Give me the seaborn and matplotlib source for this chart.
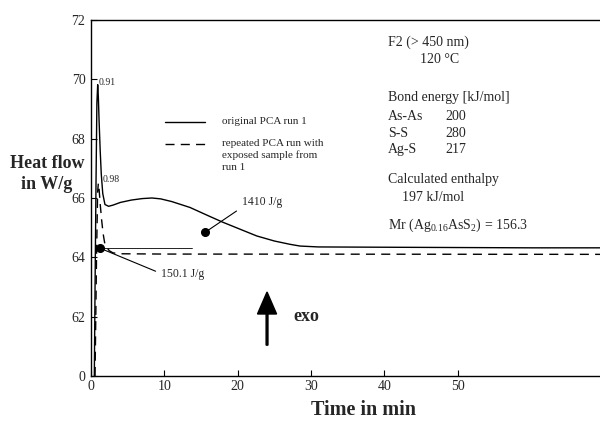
import numpy as np
import pandas as pd
import matplotlib
matplotlib.use("Agg")
import matplotlib.pyplot as plt
import seaborn as sns

# ---- data ----
time_orig = [0.45, 0.55, 0.68, 0.8, 0.91, 1.0, 1.1, 1.25, 1.4, 1.6, 1.9, 2.4, 3.0, 4.0, 5.5,
             7.0, 8.3, 9.5, 11.0, 13.5, 16.0, 18.0, 20.5, 22.6, 25.0, 27.1, 28.5, 31.0, 40.0, 50.0, 60.0, 69.4]
heat_orig = [60.0, 63.0, 66.5, 69.2, 69.82, 69.4, 68.6, 67.6, 66.8, 66.15, 65.78, 65.72, 65.76, 65.85, 65.93,
             65.98, 66.0, 65.97, 65.88, 65.68, 65.4, 65.18, 64.93, 64.72, 64.55, 64.44, 64.38, 64.35, 64.34, 64.33, 64.32, 64.32]
time_rep = [0.55, 0.75, 0.9, 1.0, 1.1, 1.25, 1.45, 1.65, 1.85, 2.1, 2.5, 3.0, 4.0, 10.0, 69.4]
heat_rep = [60.0, 64.0, 66.2, 66.5, 66.3, 65.8, 65.25, 64.8, 64.5, 64.35, 64.22, 64.15, 64.12, 64.11, 64.1]

y_ticks = [60, 62, 64, 66, 68, 70, 72]
y_tick_labels = ["0", "62", "64", "66", "68", "70", "72"]
x_ticks = [0, 10, 20, 30, 40, 50]

peak_labels = ["0.91", "0.98"]
peak_label_xy = [(1.1, 69.9), (1.6, 66.62)]

baseline_y = 64.33
baseline_x = [0.6, 13.8]

dot_points = [(1.2, 64.31), (15.6, 64.85)]
dot_labels = ["150.1 J/g", "1410 J/g"]
dot_label_xy = [(9.6, 63.45), (20.6, 65.85)]

legend_labels = ["original PCA run 1", "repeated PCA run with", "exposed sample from", "run 1"]

bond_names = ["As-As", "S-S", "Ag-S"]
bond_energy = [200, 280, 217]

# ---- style ----
sns.set_style("ticks")
plt.rcParams["font.family"] = ["Liberation Serif", "DejaVu Serif"]
plt.rcParams["mathtext.fontset"] = "custom"
plt.rcParams["mathtext.rm"] = "Liberation Serif"
plt.rcParams["mathtext.it"] = "Liberation Serif:italic"
plt.rcParams["mathtext.bf"] = "Liberation Serif:bold"

fig = plt.figure(figsize=(6, 4.25), dpi=100)
ax = fig.add_axes([0.1517, 0.1153, 0.8483, 0.8377])

df = pd.concat([
    pd.DataFrame({"time": time_orig, "heat": heat_orig, "run": "original"}),
    pd.DataFrame({"time": time_rep, "heat": heat_rep, "run": "repeated"}),
], ignore_index=True)

sns.lineplot(data=df, x="time", y="heat", style="run",
             dashes={"original": "", "repeated": (6.5, 4.5)},
             color="black", linewidth=1.0, estimator=None, sort=False,
             legend=False, ax=ax)

ax.set_xlim(0, 69.4)
ax.set_ylim(60, 72)
ax.set_xticks(x_ticks)
ax.set_yticks(y_ticks)
ax.set_yticklabels(y_tick_labels)
ax.tick_params(direction="in", length=4, width=0.8, labelsize=10, color="black")
ax.tick_params(axis="y", pad=4)
ax.tick_params(axis="x", pad=3)
ax.xaxis.set_ticks_position("bottom")
ax.yaxis.set_ticks_position("left")
for s in ["left", "bottom", "top"]:
    ax.spines[s].set_linewidth(1.0)
    ax.spines[s].set_color("black")
ax.spines["right"].set_visible(False)

ax.set_xlabel("Time in min", fontsize=14.5, fontweight="bold")
ax.xaxis.set_label_coords(0.536, -0.0955)
ax.xaxis.label.set_va("center")
ax.set_ylabel("Heat flow\nin W/g", fontsize=13, fontweight="bold", rotation=0,
              ha="center", va="center", linespacing=1.3)
ax.yaxis.set_label_coords(-0.0864, 0.567)

# peak labels
for lab, (px, py) in zip(peak_labels, peak_label_xy):
    ax.text(px, py, lab, fontsize=7, ha="left", va="center")

# integration baseline
ax.plot(baseline_x, [baseline_y, baseline_y], color="black", lw=0.6)

# dots with leader lines
relpos = [(0, 0.5), (0, 0.1)]
for (dx, dy), lab, (tx, ty), rp in zip(dot_points, dot_labels, dot_label_xy, relpos):
    ax.plot(dx, dy, "o", color="black", markersize=5.5)
    ax.annotate(lab, xy=(dx, dy), xytext=(tx, ty), fontsize=8.5, ha="left", va="center",
                arrowprops=dict(arrowstyle="-", color="black", lw=0.8,
                                shrinkA=2, shrinkB=0, relpos=rp))

# manual legend
ax.plot([0.145, 0.224], [0.7135, 0.7135], transform=ax.transAxes, color="black", lw=1.0)
ax.plot([0.145, 0.224], [0.652, 0.652], transform=ax.transAxes, color="black", lw=1.0,
        dashes=(6.5, 4.5))
leg_y = [0.7135, 0.652, 0.619, 0.585]
for lab, yy in zip(legend_labels, leg_y):
    ax.text(0.257, yy, lab, transform=ax.transAxes, fontsize=8, ha="left", va="center")

# exo arrow
ax.arrow(24.0, 61.04, 0, 1.79, head_width=2.6, head_length=0.74, width=0.25,
         length_includes_head=True, fc="black", ec="black")
ax.text(27.6, 62.02, "exo", fontsize=13, fontweight="bold", ha="left", va="center")

# right-hand annotation block
fs = 10
xl = 40.5
ax.text(xl, 71.26, "F2 (> 450 nm)", fontsize=fs, ha="left", va="center")
ax.text(44.9, 70.68, "120 °C", fontsize=fs, ha="left", va="center")
ax.text(xl, 69.40, "Bond energy [kJ/mol]", fontsize=fs, ha="left", va="center")
for i, (nm, en) in enumerate(zip(bond_names, bond_energy)):
    yy = 68.73 - i * 0.54
    ax.text(xl, yy, nm, fontsize=fs, ha="left", va="center")
    ax.text(48.3, yy, str(en), fontsize=fs, ha="left", va="center")
ax.text(xl, 66.61, "Calculated enthalpy", fontsize=fs, ha="left", va="center")
ax.text(42.4, 66.03, "197 kJ/mol", fontsize=fs, ha="left", va="center")
ax.text(xl, 65.09, r"Mr (Ag$_{\mathrm{0.16}}$AsS$_{\mathrm{2}}$) = 156.3", fontsize=fs,
        ha="left", va="center")

fig.savefig("out.png", dpi=100)
